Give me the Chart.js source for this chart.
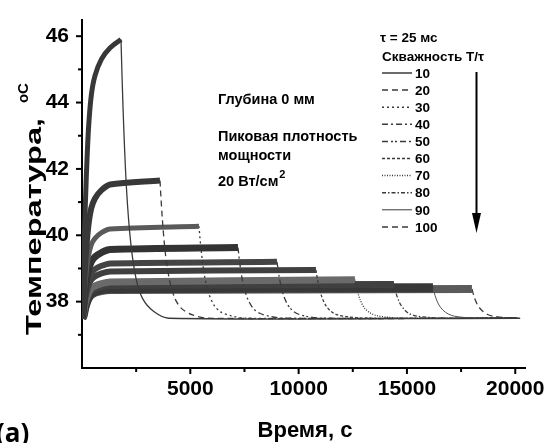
<!DOCTYPE html>
<html>
<head>
<meta charset="utf-8">
<script src="https://cdn.jsdelivr.net/npm/chart.js@4.4.0/dist/chart.umd.min.js"></script>
<style>
  html, body { margin: 0; padding: 0; background: #fff; }
  #wrap { width: 555px; height: 443px; }
</style>
</head>
<body>
<div id="wrap"><canvas id="tempChart" width="555" height="443"></canvas></div>
<script>
// duty cycle T/tau, one curve each
const dutyLabels = ["10", "20", "30", "40", "50", "60", "70", "80", "90", "100"];

// time the heating stops, s
const heatEnd = [1800, 3600, 5400, 7200, 9000, 10800, 12600, 14400, 16200, 18000];

// rise part, s
const riseTimes = [0, 50, 120, 200, 300, 430, 600, 900, 1300];
const riseTemps = [
   [37.5, 38.17, 40.19, 41.78, 43.21, 44.22, 44.81, 45.31, 45.65],
   [37.5, 37.83, 38.83, 39.62, 40.32, 40.82, 41.11, 41.36, 41.53],
   [37.5, 37.72, 38.39, 38.91, 39.38, 39.72, 39.91, 40.08, 40.19],
   [37.5, 37.67, 38.18, 38.59, 38.95, 39.2, 39.35, 39.48, 39.57],
   [37.5, 37.64, 38.04, 38.37, 38.66, 38.86, 38.98, 39.08, 39.15],
   [37.5, 37.62, 37.96, 38.24, 38.49, 38.66, 38.76, 38.85, 38.91],
   [37.5, 37.59, 37.86, 38.07, 38.26, 38.4, 38.47, 38.54, 38.59],
   [37.5, 37.58, 37.83, 38.02, 38.19, 38.32, 38.39, 38.45, 38.49],
   [37.5, 37.57, 37.79, 37.97, 38.13, 38.24, 38.3, 38.36, 38.39],
   [37.5, 37.57, 37.78, 37.95, 38.1, 38.2, 38.27, 38.32, 38.35],
];
// level at the moment heating stops
const plateauTemps = [45.9, 41.65, 40.27, 39.63, 39.2, 38.95, 38.66, 38.52, 38.42, 38.38];

// cooling part, s after heatEnd
const coolOffsets = [0, 100, 250, 450, 700, 1000, 1500, 2200];
const coolTemps = [
   [45.9, 43.72, 41.45, 39.77, 38.68, 38.09, 37.71, 37.5],
   [41.65, 40.57, 39.45, 38.62, 38.08, 37.79, 37.6, 37.5],
   [40.27, 39.55, 38.8, 38.25, 37.89, 37.69, 37.57, 37.5],
   [39.63, 39.08, 38.5, 38.08, 37.8, 37.65, 37.55, 37.5],
   [39.2, 38.76, 38.3, 37.96, 37.74, 37.62, 37.54, 37.5],
   [38.95, 38.57, 38.18, 37.89, 37.7, 37.6, 37.54, 37.5],
   [38.66, 38.35, 38.04, 37.8, 37.66, 37.58, 37.53, 37.5],
   [38.52, 38.25, 37.98, 37.78, 37.64, 37.57, 37.53, 37.5],
   [38.42, 38.18, 37.93, 37.75, 37.63, 37.56, 37.52, 37.5],
   [38.38, 38.15, 37.91, 37.74, 37.62, 37.56, 37.52, 37.5],
];
const recordEnd = 20100;
const baseTemp = 37.5;

// ticks
const xMajor = [5000, 10000, 15000, 20000];
const xMinor = [2500, 7500, 12500, 17500];
const yMajor = [38, 40, 42, 44, 46];
const yMinor = [37, 39, 41, 43, 45];

// line looks
const dashes = [[], [6, 4], [2, 3], [6, 3, 2, 3], [6, 3, 2, 2, 2, 3], [3, 2], [1, 1.5], [4, 2, 1.5, 2], [], [6, 4]];
const bandColors = ["#383838", "#383838", "#5a5a5a", "#333", "#444", "#404040", "#6a6a6a", "#404040", "#383838", "#5a5a5a"];
const bandWidths = [5, 6, 5, 7, 6, 6, 7, 7, 9, 8];

const FONT = "'Liberation Sans', Arial, sans-serif";

let datasets = [];
for (let i = 0; i < dutyLabels.length; i++) {
   let heat = [];
   for (let j = 0; j < riseTimes.length; j++) {
      heat.push({ x: riseTimes[j], y: riseTemps[i][j] });
   }
   heat.push({ x: heatEnd[i], y: plateauTemps[i] });

   let cool = [];
   for (let j = 0; j < coolOffsets.length; j++) {
      cool.push({ x: heatEnd[i] + coolOffsets[j], y: coolTemps[i][j] });
   }
   cool.push({ x: recordEnd, y: baseTemp });

   datasets.push({
      label: dutyLabels[i] + " heat",
      data: heat,
      borderColor: bandColors[i],
      borderWidth: bandWidths[i],
      pointRadius: 0,
      tension: 0.3,
      borderJoinStyle: "round",
   });
   datasets.push({
      label: dutyLabels[i],
      data: cool,
      borderColor: i == 8 ? "#555" : "#3a3a3a",
      borderWidth: i == 8 ? 1 : 1.3,
      borderDash: dashes[i],
      pointRadius: 0,
      tension: 0.3,
   });
}

// ticks, titles, text block and legend
const decor = {
   id: "decor",
   afterDraw(chart) {
      const ctx = chart.ctx;
      const xs = chart.scales.x;
      const ys = chart.scales.y;
      const area = chart.chartArea;
      ctx.save();
      ctx.strokeStyle = "#000";
      ctx.lineWidth = 2;
      xMajor.concat(xMinor).forEach(function (v) {
         const px = xs.getPixelForValue(v);
         const len = xMajor.indexOf(v) >= 0 ? 6 : 4;
         ctx.beginPath();
         ctx.moveTo(px, area.bottom);
         ctx.lineTo(px, area.bottom + len);
         ctx.stroke();
      });
      yMajor.concat(yMinor).forEach(function (v) {
         const py = ys.getPixelForValue(v);
         const len = yMajor.indexOf(v) >= 0 ? 6 : 4;
         ctx.beginPath();
         ctx.moveTo(area.left, py);
         ctx.lineTo(area.left - len, py);
         ctx.stroke();
      });

      ctx.fillStyle = "#000";
      // x title
      ctx.font = "bold 22px " + FONT;
      ctx.textAlign = "center";
      ctx.textBaseline = "alphabetic";
      ctx.fillText("Время, с", 305, 437);

      // (a)
      ctx.font = "bold 26px 'Open Sans', sans-serif";
      ctx.textAlign = "left";
      ctx.fillText("(a)", -4, 442);

      // y title with raised oC
      ctx.save();
      ctx.translate(41, 335);
      ctx.rotate(-Math.PI / 2);
      ctx.font = "bold 22px " + FONT;
      const main = "Температура,";
      const w = ctx.measureText(main).width;
      ctx.save();
      ctx.scale(217 / w, 1);
      ctx.fillText(main, 0, 0);
      ctx.restore();
      ctx.font = "bold 15px " + FONT;
      ctx.fillText("o", 232, -13);
      ctx.fillText("C", 241, -13);
      ctx.restore();

      // text block
      ctx.font = "bold 14.5px " + FONT;
      ctx.textBaseline = "middle";
      ctx.fillText("Глубина 0 мм", 218, 100);
      ctx.fillText("Пиковая плотность", 218, 137);
      ctx.fillText("мощности", 218, 156);
      ctx.fillText("20 Вт/см", 218, 182);
      const w2 = ctx.measureText("20 Вт/см").width;
      ctx.font = "bold 11px " + FONT;
      ctx.fillText("2", 218 + w2 + 1, 175);

      // legend
      ctx.font = "bold 13.5px " + FONT;
      ctx.fillText("\u03c4 = 25 мс", 380, 38);
      ctx.fillText("Скважность T/\u03c4", 382, 57);
      for (let i = 0; i < dutyLabels.length; i++) {
         const ly = 73 + i * 17.1;
         ctx.strokeStyle = "#3a3a3a";
         ctx.lineWidth = i == 8 ? 1 : 1.5;
         ctx.setLineDash(dashes[i]);
         ctx.beginPath();
         ctx.moveTo(382, ly);
         ctx.lineTo(412, ly);
         ctx.stroke();
         ctx.setLineDash([]);
         ctx.fillText(dutyLabels[i], 415, ly + 1);
      }

      // arrow
      ctx.strokeStyle = "#000";
      ctx.lineWidth = 2;
      ctx.beginPath();
      ctx.moveTo(476.5, 72);
      ctx.lineTo(476.5, 216);
      ctx.stroke();
      ctx.beginPath();
      ctx.moveTo(472, 213);
      ctx.lineTo(481, 213);
      ctx.lineTo(476.5, 233);
      ctx.closePath();
      ctx.fill();
      ctx.restore();
   },
};

const tempctx = document.getElementById("tempChart").getContext("2d");
const tempChart = new Chart(tempctx, {
   type: "line",
   data: { datasets: datasets },
   plugins: [decor],
   options: {
      responsive: false,
      animation: false,
      layout: { padding: { left: 0, right: 30, top: 10, bottom: 0 } },
      plugins: { legend: { display: false }, tooltip: { enabled: false } },
      scales: {
         x: {
            type: "linear",
            min: 0,
            max: 20450,
            afterFit: function (s) { s.height = 75; },
            afterBuildTicks: function (s) {
               s.ticks = xMajor.map(function (v) { return { value: v }; });
            },
            grid: { display: true, drawOnChartArea: false, color: "rgba(0,0,0,0)", tickLength: 6 },
            border: { display: true, color: "#000", width: 2 },
            ticks: {
               autoSkip: false,
               maxRotation: 0,
               padding: 3,
               color: "#000",
               font: { family: FONT, size: 21, weight: "bold" },
               callback: function (v) { return String(v); },
            },
         },
         y: {
            min: 36,
            max: 46.5,
            afterFit: function (s) { s.width = 82; },
            afterBuildTicks: function (s) {
               s.ticks = yMajor.map(function (v) { return { value: v }; });
            },
            grid: { display: true, drawOnChartArea: false, color: "rgba(0,0,0,0)", tickLength: 6 },
            border: { display: true, color: "#000", width: 2 },
            ticks: {
               padding: 7,
               color: "#000",
               font: { family: FONT, size: 21, weight: "bold" },
               callback: function (v) { return String(v); },
            },
         },
      },
   },
});
</script>
</body>
</html>
